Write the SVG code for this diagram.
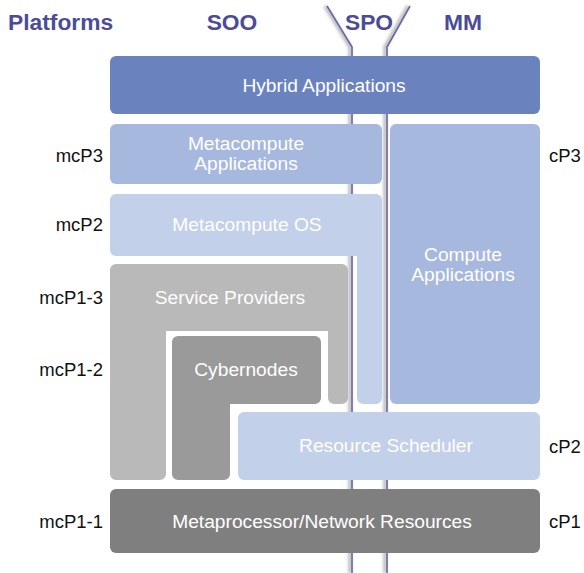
<svg xmlns="http://www.w3.org/2000/svg" width="584" height="573" viewBox="0 0 584 573">
  <defs>
    <filter id="soft" x="-50%" y="-5%" width="200%" height="110%">
      <feGaussianBlur stdDeviation="1.4"/>
    </filter>
  </defs>
  <style>
    .hdr { font-family: "Liberation Sans", Arial, sans-serif; font-size: 22.8px; font-weight: bold; fill: #4b4b9b; }
    .lbl { font-family: "Liberation Sans", Arial, sans-serif; font-size: 18.5px; fill: #111; }
    .txt { font-family: "Liberation Sans", Arial, sans-serif; font-size: 19.2px; fill: #ffffff; text-anchor: middle; }
    .axis { fill: none; stroke: #6666aa; stroke-width: 1.6; }
    .axis-shade { fill: none; stroke: #b0b0b0; stroke-width: 3; filter: url(#soft); }
  </style>

  <rect width="584" height="573" fill="#ffffff"/>

  <!-- column headers -->
  <g id="headers">
    <text class="hdr" x="8" y="30">Platforms</text>
    <text class="hdr" x="232" y="30" text-anchor="middle">SOO</text>
    <text class="hdr" x="369" y="30" text-anchor="middle">SPO</text>
    <text class="hdr" x="463" y="30" text-anchor="middle">MM</text>
  </g>

  <!-- SPO boundary lines (run behind the boxes) -->
  <g id="connectors">
    <path class="axis-shade" d="M325,6 L350,47 V573"/>
    <path class="axis-shade" d="M408,6 L385,47 V573"/>
    <path class="axis" d="M327,6 L352,47 V573"/>
    <path class="axis" d="M410,6 L387,47 V573"/>
  </g>

  <g id="hybrid-applications">
    <rect x="110" y="56" width="430" height="58" rx="6" fill="#6a83bf"/>
    <text class="txt" x="324" y="92">Hybrid Applications</text>
  </g>

  <g id="metacompute-applications">
    <rect x="110" y="124" width="272" height="60" rx="6" fill="#a7b8df"/>
    <text class="txt" x="246" y="150">Metacompute</text>
    <text class="txt" x="246" y="170">Applications</text>
  </g>

  <g id="compute-applications">
    <rect x="390" y="124" width="150" height="280" rx="6" fill="#a7b8df"/>
    <text class="txt" x="463" y="261">Compute</text>
    <text class="txt" x="463" y="281">Applications</text>
  </g>

  <g id="metacompute-os">
    <path d="M116,194 H376 A6,6 0 0 1 382,200 V398 A6,6 0 0 1 376,404 H363 A6,6 0 0 1 357,398 V256 H116 A6,6 0 0 1 110,250 V200 A6,6 0 0 1 116,194 Z" fill="#c3d0e9"/>
    <text class="txt" x="247" y="231">Metacompute OS</text>
  </g>

  <g id="service-providers">
    <path d="M116,264 H342 A6,6 0 0 1 348,270 V398 A6,6 0 0 1 342,404 H334 A6,6 0 0 1 328,398 V331 H166 V474 A6,6 0 0 1 160,480 H116 A6,6 0 0 1 110,474 V270 A6,6 0 0 1 116,264 Z" fill="#b9b9b9"/>
    <text class="txt" x="230" y="304">Service Providers</text>
  </g>

  <g id="cybernodes">
    <path d="M178,336 H315 A6,6 0 0 1 321,342 V398 A6,6 0 0 1 315,404 H230 V474 A6,6 0 0 1 224,480 H178 A6,6 0 0 1 172,474 V342 A6,6 0 0 1 178,336 Z" fill="#9a9a9a"/>
    <text class="txt" x="246" y="376">Cybernodes</text>
  </g>

  <g id="resource-scheduler">
    <rect x="238" y="412" width="302" height="68" rx="6" fill="#c3d0e9"/>
    <text class="txt" x="386" y="452">Resource Scheduler</text>
  </g>

  <g id="metaprocessor-network-resources">
    <rect x="110" y="489" width="430" height="64" rx="6" fill="#7f7f7f"/>
    <text class="txt" x="322" y="528">Metaprocessor/Network Resources</text>
  </g>

  <!-- platform level labels -->
  <g id="levels">
    <text class="lbl" x="103" y="162" text-anchor="end">mcP3</text>
    <text class="lbl" x="103" y="231" text-anchor="end">mcP2</text>
    <text class="lbl" x="103" y="304" text-anchor="end">mcP1-3</text>
    <text class="lbl" x="103" y="376" text-anchor="end">mcP1-2</text>
    <text class="lbl" x="103" y="528" text-anchor="end">mcP1-1</text>
    <text class="lbl" x="549" y="162">cP3</text>
    <text class="lbl" x="549" y="453">cP2</text>
    <text class="lbl" x="549" y="528">cP1</text>
  </g>
</svg>
